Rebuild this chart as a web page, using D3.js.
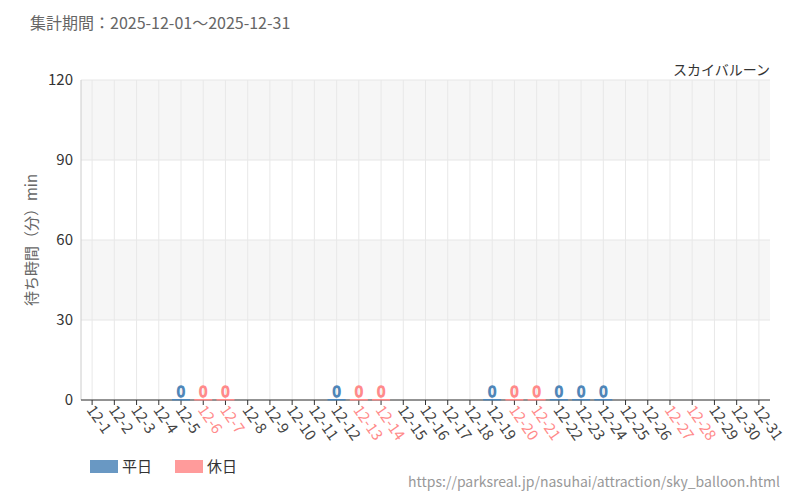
<!DOCTYPE html><html><head><meta charset="utf-8"><script src="https://cdn.jsdelivr.net/npm/d3@7"></script>
<style>body{margin:0;background:#fff;font-family:"Noto Sans CJK JP","Noto Sans",sans-serif}</style></head><body><svg id="c" width="800" height="500"></svg><script>
const days=d3.range(1,32).map(d=>"12-"+d);
const holidays=["12-6","12-7","12-13","12-14","12-20","12-21","12-27","12-28"];
const weekdayVals={"12-5":0,"12-12":0,"12-19":0,"12-22":0,"12-23":0,"12-24":0};
const holidayVals={"12-6":0,"12-7":0,"12-13":0,"12-14":0,"12-20":0,"12-21":0};
const yTicks=[0,30,60,90,120];
const blue="#4f86b8",red="#ff8a8a";
const svg=d3.select("#c");
const L=81,R=770,T=80,B=400;
const x=d3.scaleBand().domain(days).range([L,R]);
const y=d3.scaleLinear().domain([0,120]).range([B,T]);
svg.append("text").attr("x",30).attr("y",29).attr("font-size",16).attr("fill","#666").text("集計期間：2025-12-01～2025-12-31");
[[90,120],[30,60]].forEach(([a,b])=>svg.append("rect").attr("x",L).attr("width",R-L).attr("y",y(b)).attr("height",y(a)-y(b)).attr("fill","#f6f6f6"));
yTicks.forEach(t=>{svg.append("line").attr("x1",L).attr("x2",R).attr("y1",y(t)).attr("y2",y(t)).attr("stroke","#e6e6e6");
svg.append("text").attr("x",L-8).attr("y",y(t)+5).attr("text-anchor","end").attr("font-size",15).attr("fill","#333").text(t);});
days.forEach(d=>svg.append("line").attr("x1",x(d)+x.bandwidth()/2).attr("x2",x(d)+x.bandwidth()/2).attr("y1",T).attr("y2",B).attr("stroke","#e8e8e8"));
svg.append("line").attr("x1",L).attr("x2",L).attr("y1",T).attr("y2",B).attr("stroke","#ccc");
svg.append("line").attr("x1",L).attr("x2",R).attr("y1",B).attr("y2",B).attr("stroke","#333");
days.forEach(d=>{const cx=x(d)+x.bandwidth()/2;
svg.append("line").attr("x1",cx).attr("x2",cx).attr("y1",B).attr("y2",B+5).attr("stroke","#333");
svg.append("text").attr("transform",`translate(${cx-6},${B+10}) rotate(55)`).attr("font-size",15).attr("fill",holidays.includes(d)?red:"#444").text(d);
const v=weekdayVals[d]!==undefined?weekdayVals[d]:holidayVals[d];
if(v!==undefined){const c=holidays.includes(d)?red:blue;
svg.append("rect").attr("x",cx-9).attr("width",18).attr("y",y(v)-1).attr("height",1.5).attr("fill",c);
svg.append("text").attr("x",cx).attr("y",y(v)-3).attr("text-anchor","middle").attr("font-size",15).attr("fill","#fff").attr("stroke",c).attr("stroke-width",1.3).text(v);}});
svg.append("text").attr("transform","translate(37,240) rotate(-90)").attr("text-anchor","middle").attr("font-size",15).attr("fill","#666").text("待ち時間（分）min");
svg.append("text").attr("x",770).attr("y",75).attr("text-anchor","end").attr("font-size",14).attr("fill","#333").text("スカイバルーン");
[[blue,"平日",90],[red,"休日",175]].forEach(([c,t,lx])=>{svg.append("rect").attr("x",lx).attr("y",460).attr("width",28).attr("height",13).attr("fill",c).attr("opacity",0.85);
svg.append("text").attr("x",lx+32).attr("y",472).attr("font-size",15).attr("fill","#333").text(t);});
svg.append("text").attr("x",780).attr("y",487).attr("text-anchor","end").attr("font-size",14).attr("fill","#999").text("https://parksreal.jp/nasuhai/attraction/sky_balloon.html");
</script></body></html>
